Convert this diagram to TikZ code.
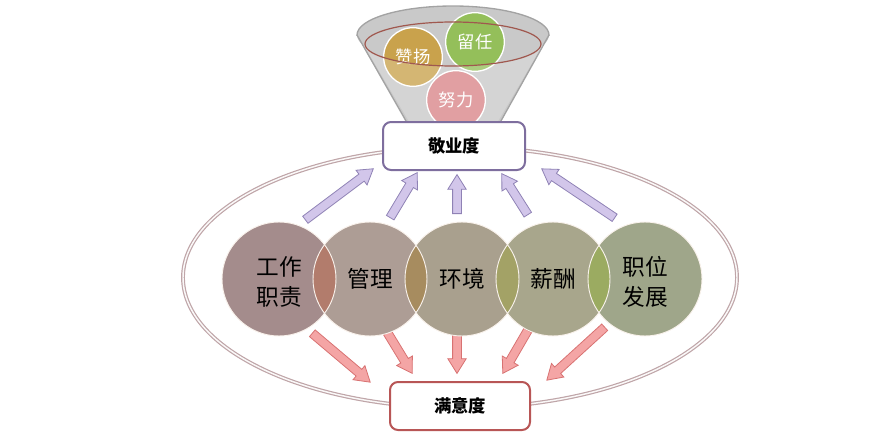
\documentclass[tikz,border=0pt]{standalone}
\usepackage{fontspec}
\newfontfamily\cjk{Noto Sans CJK SC}
\usetikzlibrary{shapes.arrows,calc}
\definecolor{ellc}{HTML}{BFA5A8}
\definecolor{purb}{HTML}{7E6E9E}
\definecolor{redb}{HTML}{B85656}
\definecolor{pafill}{HTML}{D2C6EA}
\definecolor{padraw}{HTML}{8F82B5}
\definecolor{rafill}{HTML}{F4A5A5}
\definecolor{radraw}{HTML}{D87272}
\definecolor{cA}{HTML}{A48C8C}
\definecolor{cB}{HTML}{AD9D95}
\definecolor{cC}{HTML}{A9A08E}
\definecolor{cD}{HTML}{A8A68C}
\definecolor{cE}{HTML}{9FA68A}
\definecolor{lAB}{HTML}{B27C6C}
\definecolor{lBC}{HTML}{A78C5F}
\definecolor{lCD}{HTML}{A3A266}
\definecolor{lDE}{HTML}{9BAB61}
\definecolor{fgray}{HTML}{C9C9C9}
\definecolor{fgrayd}{HTML}{A3A3A3}
\definecolor{fred}{HTML}{A0584F}
\definecolor{gold}{HTML}{C9A24C}
\definecolor{green}{HTML}{94BF5A}
\definecolor{pink}{HTML}{D98588}
\newcommand\blockarrow[3]{%
  \path let \p1=(#2), \p2=(#3), \n1={atan2(\y2-\y1,\x2-\x1)}, \n2={veclen(\x2-\x1,\y2-\y1)} in
    node[#1, rotate=\n1, minimum height={\n2}, anchor=tail] at (#2) {};}
\begin{document}
\begin{tikzpicture}[x=0.75pt,y=-0.75pt,
  blockarr/.style={single arrow, inner xsep=0pt, inner ysep=3pt, text height=0pt, text depth=0pt,
    single arrow head extend=3.6pt, single arrow tip angle=64, line width=0.6pt},
  uparr/.style={blockarr, fill=pafill, draw=padraw},
  downarr/.style={blockarr, fill=rafill, draw=radraw},
  bigc/.style={circle, minimum size=85.5pt, inner sep=0pt},
  ctext/.style={font=\cjk\fontsize{17}{22.5}\selectfont, align=center, text=black},
  smallc/.style={circle, minimum size=44pt, inner sep=0pt, draw=white, line width=1pt,
    font=\cjk\fontsize{13}{15}\selectfont, text=white},
  labbox/.style={rectangle, rounded corners=6pt, fill=white, line width=1.5pt,
    font=\cjk\bfseries\fontsize{13}{15}\selectfont, minimum height=36pt},
]
\useasboundingbox (0,0) rectangle (893,432);
% big ellipse
\draw[draw=ellc, double=white!92!ellc, double distance=1.1pt, line width=0.9pt] (460,277.5) ellipse [x radius=277, y radius=130.5];
% arrow end points
\coordinate (u1t) at (305,220); \coordinate (u1h) at (373,169);
\coordinate (u2t) at (390,218); \coordinate (u2h) at (417,173);
\coordinate (u3t) at (457,214); \coordinate (u3h) at (457,175);
\coordinate (u4t) at (528,215); \coordinate (u4h) at (502,174);
\coordinate (u5t) at (615,218); \coordinate (u5h) at (542,169);
\coordinate (d1t) at (312,333); \coordinate (d1h) at (370,382);
\coordinate (d2t) at (387,332); \coordinate (d2h) at (412,373);
\coordinate (d3t) at (457,330); \coordinate (d3h) at (457,373);
\coordinate (d4t) at (528,330); \coordinate (d4h) at (503,373);
\coordinate (d5t) at (605,327); \coordinate (d5h) at (547,380);
\foreach \i in {1,...,5}{\blockarrow{uparr}{u\i t}{u\i h}}
\foreach \i in {1,...,5}{\blockarrow{downarr}{d\i t}{d\i h}}
% big circles
\node[bigc, fill=cA] (c1) at (279,279) {};
\node[bigc, fill=cB] (c2) at (370,279) {};
\node[bigc, fill=cC] (c3) at (462,279) {};
\node[bigc, fill=cD] (c4) at (553,279) {};
\node[bigc, fill=cE] (c5) at (645,279) {};
\begin{scope}\clip (c1.center) circle [radius=42.75pt]; \fill[lAB] (c2.center) circle [radius=42.75pt];\end{scope}
\begin{scope}\clip (c2.center) circle [radius=42.75pt]; \fill[lBC] (c3.center) circle [radius=42.75pt];\end{scope}
\begin{scope}\clip (c3.center) circle [radius=42.75pt]; \fill[lCD] (c4.center) circle [radius=42.75pt];\end{scope}
\begin{scope}\clip (c4.center) circle [radius=42.75pt]; \fill[lDE] (c5.center) circle [radius=42.75pt];\end{scope}
\foreach \c in {c1,c2,c3,c4,c5}{\draw[white!90!brown, line width=0.7pt] (\c.center) circle [radius=42.75pt];}
\node[ctext] (t1) at ($(c1)+(0,3)$) {工作\\职责};
\node[ctext] (t2) at (c2) {管理};
\node[ctext] (t3) at (c3) {环境};
\node[ctext] (t4) at (c4) {薪酬};
\node[ctext] (t5) at ($(c5)+(0,3)$) {职位\\发展};
% funnel
\fill[fgray] (453,35) ellipse [x radius=96, y radius=29];
\fill[fgray] (357,35) -- (410,128) -- (497,128) -- (549,35) -- cycle;
\begin{scope}\clip (0,0) rectangle (893,35);
\draw[fgrayd, line width=1pt] (453,35) ellipse [x radius=96, y radius=29];
\end{scope}
\draw[fgrayd, line width=1pt] (357,35) -- (410,128) (549,35) -- (497,128);
\node[smallc, fill=gold] (zy) at (413,57) {赞扬};
\node[smallc, fill=green] (lr) at (475,42) {留任};
\node[smallc, fill=pink] (nl) at (456,100) {努力};
\begin{scope}
\clip (0,45) rectangle (893,140);
\fill[white, opacity=0.22, even odd rule] (340,5) -- (420,140) -- (487,140) -- (566,5) -- cycle (453,44) ellipse [x radius=88, y radius=22];
\end{scope}
\draw[fred, line width=0.9pt] (453,44) ellipse [x radius=88, y radius=22];
% boxes
\node[labbox, draw=purb, minimum width=106.5pt] (eng) at (454,146) {敬业度};
\node[labbox, draw=redb, minimum width=105pt] (sat) at (460,406) {满意度};
\end{tikzpicture}
\end{document}
